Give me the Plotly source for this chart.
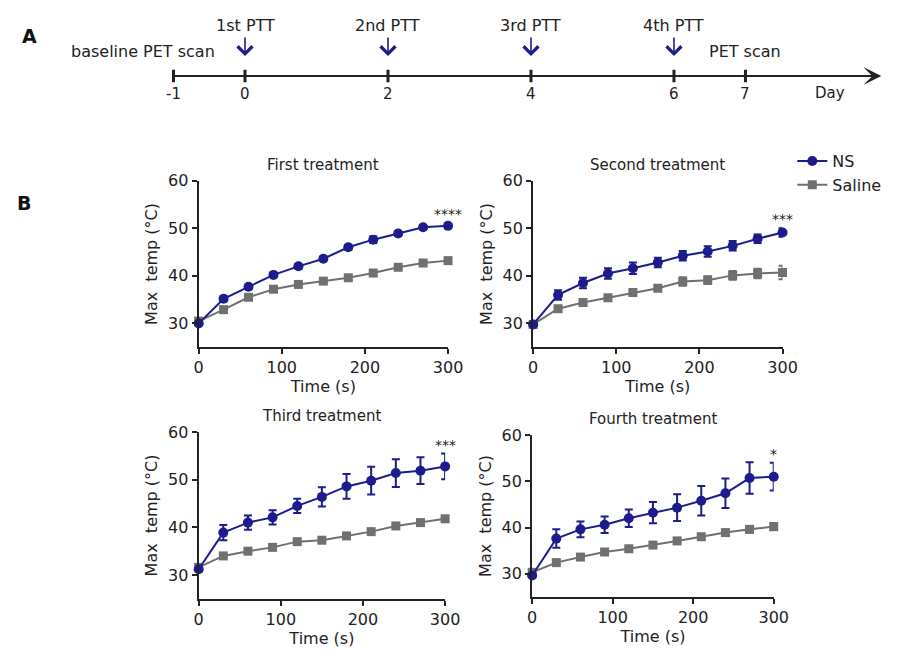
import plotly.graph_objects as go

W, H = 910, 656
FONT = "DejaVu Sans, Arial, sans-serif"
TXT = "#222222"
NAVY = "#1c1c8c"
GRAY = "#707070"

# ---------------- data ----------------
time_s = [0, 30, 60, 90, 120, 150, 180, 210, 240, 270, 300]
treatments = ["First treatment", "Second treatment", "Third treatment", "Fourth treatment"]
significance = ["****", "***", "***", "*"]

ns_first = [30.0, 35.2, 37.7, 40.2, 42.0, 43.6, 46.0, 47.6, 48.9, 50.2, 50.5]
ns_first_err = [0.3, 0.5, 0.4, 0.4, 0.5, 0.4, 0.5, 0.7, 0.5, 0.4, 0.5]
saline_first = [30.5, 32.9, 35.5, 37.2, 38.2, 38.9, 39.6, 40.6, 41.8, 42.7, 43.2]
saline_first_err = [0.3, 0.6, 0.4, 0.4, 0.4, 0.4, 0.4, 0.4, 0.4, 0.4, 0.4]

ns_second = [29.8, 36.0, 38.5, 40.5, 41.6, 42.8, 44.2, 45.1, 46.3, 47.8, 49.1]
ns_second_err = [0.3, 1.0, 1.1, 1.1, 1.2, 1.0, 1.0, 1.1, 1.0, 0.9, 0.9]
saline_second = [29.8, 33.1, 34.4, 35.4, 36.5, 37.4, 38.8, 39.1, 40.1, 40.5, 40.7]
saline_second_err = [0.3, 0.5, 0.5, 0.5, 0.5, 0.5, 0.9, 0.8, 0.9, 1.0, 1.4]

ns_third = [31.2, 38.9, 41.0, 42.1, 44.5, 46.4, 48.6, 49.8, 51.4, 51.9, 52.8]
ns_third_err = [0.4, 1.6, 1.5, 1.5, 1.5, 2.0, 2.6, 2.9, 2.9, 2.8, 2.7]
saline_third = [31.6, 34.0, 35.0, 35.8, 37.0, 37.3, 38.2, 39.1, 40.3, 41.0, 41.8]
saline_third_err = [0.4, 0.4, 0.4, 0.4, 0.4, 0.4, 0.4, 0.4, 0.4, 0.4, 0.4]

ns_fourth = [29.6, 37.6, 39.6, 40.6, 42.0, 43.2, 44.3, 45.8, 47.4, 50.7, 51.0]
ns_fourth_err = [0.4, 2.0, 1.7, 1.8, 1.9, 2.3, 2.9, 3.2, 3.2, 3.4, 3.0]
saline_fourth = [30.3, 32.4, 33.6, 34.7, 35.4, 36.2, 37.1, 38.0, 38.9, 39.6, 40.2]
saline_fourth_err = [0.3, 0.4, 0.4, 0.4, 0.4, 0.4, 0.4, 0.4, 0.5, 0.7, 0.8]

timeline_days = [-1, 0, 2, 4, 6, 7]
timeline_labels = ["-1", "0", "2", "4", "6", "7"]
ptt_days = [0, 2, 4, 6]
ptt_labels = ["1st PTT", "2nd PTT", "3rd PTT", "4th PTT"]
scan_days = [-1, 7]
scan_labels = ["baseline PET scan", "PET scan"]
axis_end_day = 8.9

ns_all = [ns_first, ns_second, ns_third, ns_fourth]
ns_err_all = [ns_first_err, ns_second_err, ns_third_err, ns_fourth_err]
sal_all = [saline_first, saline_second, saline_third, saline_fourth]
sal_err_all = [saline_first_err, saline_second_err, saline_third_err, saline_fourth_err]

# ---------------- layout geometry (pixels of the 910x656 canvas) ----------------
panels_px = [(198, 453, 174, 343), (540, 795, 174, 343),
             (198, 450, 429, 598), (539, 786, 432, 596)]

fig = go.Figure()
layout = dict(width=W, height=H, autosize=False,
              margin=dict(l=0, r=0, t=0, b=0),
              paper_bgcolor="white", plot_bgcolor="white",
              font=dict(family=FONT, color=TXT, size=16),
              showlegend=True,
              legend=dict(x=805 / W, y=1 - 137 / H, xanchor="left", yanchor="top",
                          font=dict(size=16, color=TXT), bgcolor="rgba(0,0,0,0)",
                          tracegroupgap=0, itemwidth=30))
annotations = []

for i in range(4):
    k = i + 1
    xa = "x" if k == 1 else f"x{k}"
    ya = "y" if k == 1 else f"y{k}"
    x0, x1, ytop, ybot = panels_px[i]
    fig.add_trace(go.Scatter(
        x=time_s, y=sal_all[i], xaxis=xa, yaxis=ya, name="Saline",
        mode="lines+markers", legendrank=2, showlegend=(i == 0),
        line=dict(color=GRAY, width=2),
        marker=dict(symbol="square", size=9, color=GRAY),
        error_y=dict(type="data", array=sal_err_all[i], color=GRAY, thickness=2, width=4),
        cliponaxis=False))
    fig.add_trace(go.Scatter(
        x=time_s, y=ns_all[i], xaxis=xa, yaxis=ya, name="NS",
        mode="lines+markers", legendrank=1, showlegend=(i == 0),
        line=dict(color=NAVY, width=2),
        marker=dict(symbol="circle", size=10, color=NAVY),
        error_y=dict(type="data", array=ns_err_all[i], color=NAVY, thickness=2, width=4),
        cliponaxis=False))
    axcommon = dict(showline=True, linewidth=2, linecolor=TXT, ticks="outside",
                    ticklen=5, tickwidth=2, tickcolor=TXT, showgrid=False,
                    zeroline=False, tickfont=dict(size=16, color=TXT))
    layout["xaxis" if k == 1 else f"xaxis{k}"] = dict(
        axcommon, domain=[x0 / W, x1 / W], range=[0, 300],
        tickvals=[0, 100, 200, 300], anchor=ya,
        title=dict(text="Time (s)", font=dict(size=16, color=TXT), standoff=0))
    layout["yaxis" if k == 1 else f"yaxis{k}"] = dict(
        axcommon, domain=[1 - ybot / H, 1 - ytop / H], range=[25, 60],
        tickvals=[30, 40, 50, 60], anchor=xa,
        title=dict(text="Max\u00a0 temp (°C)", font=dict(size=16, color=TXT), standoff=6))
    annotations.append(dict(text=treatments[i], xref="paper", yref="paper",
                            x=(x0 + x1) / 2 / W, y=1 - (ytop - 16) / H,
                            xanchor="center", yanchor="middle", showarrow=False,
                            font=dict(size=15, color=TXT)))
    annotations.append(dict(text=significance[i], xref=xa, yref=ya,
                            x=time_s[-1], y=ns_all[i][-1] + ns_err_all[i][-1],
                            xanchor="center", yanchor="bottom", yshift=-1,
                            showarrow=False, font=dict(size=14, color=TXT)))

# ---------------- timeline (panel A) ----------------
px_per_day = 73.1
px_day0 = 245.4
layout["xaxis5"] = dict(domain=[0, 1], range=[-px_day0 / px_per_day, (W - px_day0) / px_per_day],
                        visible=False, anchor="y5")
layout["yaxis5"] = dict(domain=[1 - 108 / H, 1 - 28 / H], range=[-1, 1],
                        visible=False, anchor="x5")

annotations.append(dict(x=axis_end_day, y=0, ax=timeline_days[0], ay=0,
                        xref="x5", yref="y5", axref="x5", ayref="y5", text="",
                        showarrow=True, arrowhead=3, arrowwidth=2, arrowsize=1.5,
                        arrowcolor=TXT))
fig.add_trace(go.Scatter(x=timeline_days, y=[0] * len(timeline_days),
                         xaxis="x5", yaxis="y5", mode="markers", showlegend=False,
                         hoverinfo="skip",
                         marker=dict(symbol="line-ns", size=9,
                                     line=dict(width=3, color=TXT))))
for d, lab in zip(timeline_days, timeline_labels):
    annotations.append(dict(x=d, y=0, xref="x5", yref="y5", text=lab,
                            showarrow=False, yshift=-18, font=dict(size=15, color=TXT)))
annotations.append(dict(x=axis_end_day, y=0, xref="x5", yref="y5", text="Day",
                        showarrow=False, xanchor="right", xshift=-34, yshift=-17,
                        font=dict(size=15, color=TXT)))
for d, lab in zip(ptt_days, ptt_labels):
    annotations.append(dict(x=d, y=0, xref="x5", yref="y5", text="",
                            showarrow=True, ax=0, ay=-20, yshift=20,
                            arrowhead=4, arrowwidth=1.6, arrowsize=1.8, arrowcolor=NAVY))
    annotations.append(dict(x=d, y=0, xref="x5", yref="y5", text=lab,
                            showarrow=False, yanchor="middle", yshift=51,
                            font=dict(size=16, color=TXT)))
annotations.append(dict(x=scan_days[0], y=0, xref="x5", yref="y5", text=scan_labels[0],
                        showarrow=False, xshift=-31, yshift=25, font=dict(size=16, color=TXT)))
annotations.append(dict(x=scan_days[1], y=0, xref="x5", yref="y5", text=scan_labels[1],
                        showarrow=False, yshift=25, font=dict(size=16, color=TXT)))

annotations.append(dict(text="<b>A</b>", xref="paper", yref="paper", x=25 / W, y=1 - 27 / H,
                        showarrow=False, xanchor="center", yanchor="middle",
                        font=dict(size=19, color="#111111")))
annotations.append(dict(text="<b>B</b>", xref="paper", yref="paper", x=19 / W, y=1 - 197 / H,
                        showarrow=False, xanchor="center", yanchor="middle",
                        font=dict(size=19, color="#111111")))

layout["annotations"] = annotations
fig.update_layout(**layout)
fig.write_html("out.html", config={"displayModeBar": False},
               post_script="document.body.style.margin='0';document.body.style.overflow='hidden';")
